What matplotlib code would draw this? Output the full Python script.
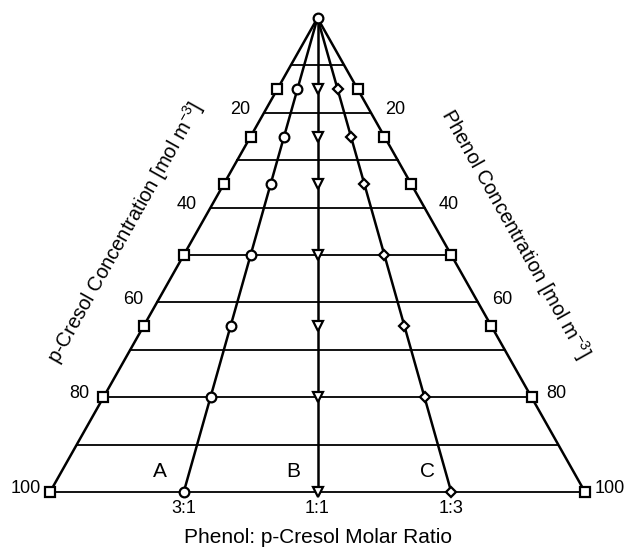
import matplotlib.pyplot as plt
import numpy as np

plt.rcParams['font.family'] = ['Liberation Sans', 'DejaVu Sans']

# total concentration levels (apex = 0, base = 100)
grid_levels = [10, 20, 30, 40, 50, 60, 70, 80, 90, 100]
point_levels = [15, 25, 35, 50, 65, 80, 100]
# fraction across the triangle for each ratio line
ratio_fracs = [0.0, 0.25, 0.5, 0.75, 1.0]
ratio_markers = ['s', 'o', 'v', 'D', 's']
ratio_sizes = [6.5, 7.0, 6.5, 5.5, 6.5]
ratio_names = ['3:1', '1:1', '1:3']
line_names = ['A', 'B', 'C']
edge_ticks = [20, 40, 60, 80, 100]


def to_xy(frac, level):
    level = np.asarray(level, dtype=float)
    return 0.5 + (frac - 0.5) * level / 100.0, level


def main():
    fig = plt.figure(figsize=(6.24, 5.47), dpi=100)
    ax = fig.add_axes([0, 0, 1, 1])
    ax.set_xlim(-50 / 535, 574 / 535)
    ax.set_ylim(529 / 4.74, -18 / 4.74)
    ax.axis('off')

    # horizontal grid lines
    for lev in grid_levels:
        x0, _ = to_xy(0.0, lev)
        x1, _ = to_xy(1.0, lev)
        ax.plot([x0, x1], [lev, lev], color='k', lw=1.3, zorder=1)

    # ratio lines from apex to base with their data points
    for frac, mk, ms in zip(ratio_fracs, ratio_markers, ratio_sizes):
        xs, ys = to_xy(frac, [0, 100])
        ax.plot(xs, ys, color='k', lw=1.8, zorder=2)
        px, py = to_xy(frac, point_levels)
        ax.plot(px, py, ls='none', marker=mk, ms=ms, mfc='white',
                mec='k', mew=1.6, zorder=3)

    ax.plot([0.5], [0], ls='none', marker='o', ms=7, mfc='white',
            mec='k', mew=1.6, zorder=4)

    # edge tick labels
    for lev in edge_ticks:
        xl, _ = to_xy(0.0, lev)
        xr, _ = to_xy(1.0, lev)
        ax.text(xl - 0.045, lev - 0.7, str(lev), ha='center', va='center',
                fontsize=13)
        ax.text(xr + 0.046, lev - 0.7, str(lev), ha='center', va='center',
                fontsize=13)

    # ratio labels below the base and line letters above it
    for frac, name, letter in zip(ratio_fracs[1:4], ratio_names, line_names):
        x, _ = to_xy(frac, 100)
        ax.text(x, 103.4, name, ha='center', va='center', fontsize=13)
        ax.text(x - 0.045, 95.6, letter, ha='center', va='center',
                fontsize=15)

    ax.text(0.5, 109.6, 'Phenol: p-Cresol Molar Ratio', ha='center',
            va='center', fontsize=15)

    ang = np.degrees(np.arctan2(474, 266))
    ax.text(-50 / 535 + 125 / 535, (233 - 18) / 4.74,
            'p-Cresol Concentration [mol m$^{\\mathregular{-3}}$]', rotation=ang,
            rotation_mode='anchor', ha='center', va='center', fontsize=14.5)
    ax.text(-50 / 535 + 515 / 535, (234 - 18) / 4.74,
            'Phenol Concentration [mol m$^{\\mathregular{-3}}$]', rotation=-ang,
            rotation_mode='anchor', ha='center', va='center', fontsize=14.5)

    fig.savefig('out.png', dpi=100)


if __name__ == '__main__':
    main()
